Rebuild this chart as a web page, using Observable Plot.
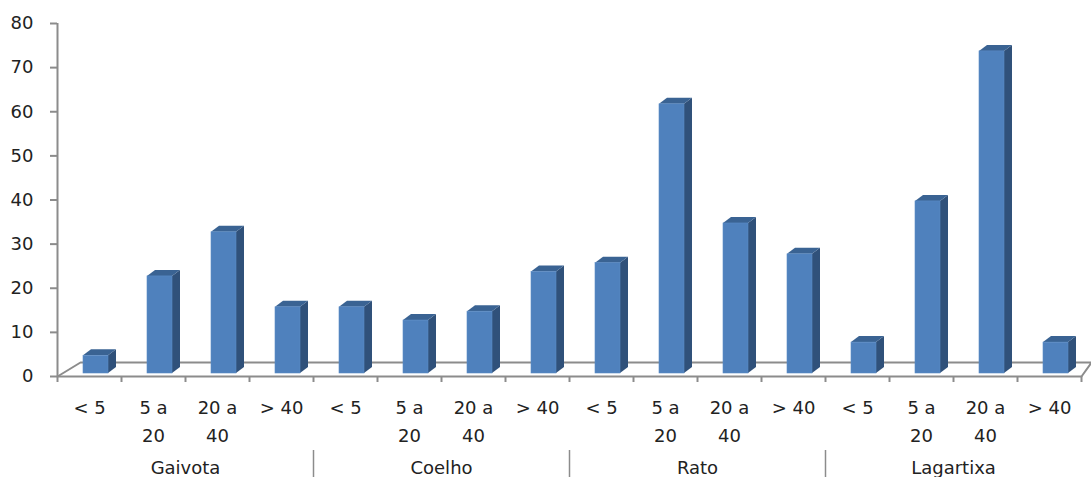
<!DOCTYPE html>
<html>
<head>
<meta charset="utf-8">
<script src="https://cdn.jsdelivr.net/npm/d3@7"></script>
<script src="https://cdn.jsdelivr.net/npm/@observablehq/plot@0.6"></script>
<style>
  html, body { margin: 0; padding: 0; background: #fff; }
  #chart svg { display: block; }
</style>
</head>
<body>
<div id="chart"></div>
<script>
// ---- data ----
const groups = ["Gaivota", "Coelho", "Rato", "Lagartixa"];
const ageClasses = ["< 5", "5 a\n20", "20 a\n40", "> 40"];
const gaivota = [4, 22, 32, 15];
const coelho = [15, 12, 14, 23];
const rato = [25, 61, 34, 27];
const lagartixa = [7, 39, 73, 7];
const yTicks = [0, 10, 20, 30, 40, 50, 60, 70, 80];

const seriesValues = [gaivota, coelho, rato, lagartixa];
const rows = [];
groups.forEach((g, gi) => {
  seriesValues[gi].forEach((v, ai) => {
    rows.push({group: g, age: ageClasses[ai], i: gi * ageClasses.length + ai, value: v});
  });
});
const n = rows.length;

// ---- layout ----
const W = 1091, H = 477;
const mL = 57, mR = 10, mT = 23, mB = 101;
const pxPerX = (W - mL - mR) / n;
const pxPerY = (H - mT - mB) / 80;
const barDX = 8 / pxPerX, barDY = 6 / pxPerY;
const barW = 25 / pxPerX;
const barShift = 6.5 / pxPerX;
const barLift = 3 / pxPerY;
const floorDX = 23 / pxPerX, floorDY = 14 / pxPerY;
const floorDXR = 10 / pxPerX;

const frontFaces = rows.map(d => ({
  ...d,
  x1: d.i + 0.5 + barShift - barW / 2,
  x2: d.i + 0.5 + barShift + barW / 2,
  y1: barLift,
  y2: d.value + barLift
}));
const sideFaces = frontFaces.flatMap(d => [
  {i: d.i, x: d.x2, y1: d.y1, y2: d.y2},
  {i: d.i, x: d.x2 + barDX, y1: d.y1 + barDY, y2: d.y2 + barDY}
]);
const topFaces = frontFaces.flatMap(d => [
  {i: d.i, x: d.x1, y1: d.y2, y2: d.y2},
  {i: d.i, x: d.x1 + barDX, y1: d.y2, y2: d.y2 + barDY},
  {i: d.i, x: d.x2, y1: d.y2, y2: d.y2 + barDY},
  {i: d.i, x: d.x2 + barDX, y1: d.y2 + barDY, y2: d.y2 + barDY}
]);
const floorLine = [
  {x: 0, y: 0},
  {x: floorDX, y: floorDY},
  {x: n + floorDXR, y: floorDY},
  {x: n, y: 0}
];

const axisColor = "#8c8c8c";
const textColor = "#222222";
const font = "'DejaVu Sans', sans-serif";

const chart = Plot.plot({
  width: W,
  height: H,
  marginLeft: mL,
  marginRight: mR,
  marginTop: mT,
  marginBottom: mB,
  style: {fontFamily: font, fontSize: "18px", color: textColor, background: "#fff", overflow: "visible"},
  x: {type: "linear", domain: [0, n], axis: null},
  y: {domain: [0, 80], axis: null},
  marks: [
    Plot.line(floorLine, {x: "x", y: "y", stroke: axisColor, strokeWidth: 2}),
    Plot.ruleX([0], {stroke: axisColor, strokeWidth: 2}),
    Plot.axisY({ticks: yTicks, tickSize: 7, tickPadding: 17, fontSize: 18, stroke: axisColor, strokeWidth: 2, fill: textColor}),
    Plot.ruleY([0], {stroke: axisColor, strokeWidth: 2}),
    Plot.axisX({ticks: d3.range(n + 1), tickSize: 6, tickFormat: () => "", stroke: axisColor, strokeWidth: 2}),
    Plot.areaY(sideFaces, {x: "x", y1: "y1", y2: "y2", z: "i", fill: "#30517a", curve: "linear"}),
    Plot.areaY(topFaces, {x: "x", y1: "y1", y2: "y2", z: "i", fill: "#3a6393", curve: "linear"}),
    Plot.rectY(frontFaces, {x1: "x1", x2: "x2", y1: "y1", y2: "y2", fill: "#4f81bd", stroke: "#5b8cc6", strokeWidth: 0.6}),
    Plot.text(rows, {x: d => d.i + 0.5, text: "age", frameAnchor: "bottom", lineAnchor: "top", dy: 18, lineHeight: 1.556, fontSize: 18, fill: textColor}),
    Plot.text(groups, {x: (d, k) => k * ageClasses.length + ageClasses.length / 2, text: d => d, frameAnchor: "bottom", lineAnchor: "top", dy: 85, fontSize: 18, fill: textColor}),
    Plot.ruleX(d3.range(1, groups.length).map(k => k * ageClasses.length), {stroke: "#8c8c8c", strokeWidth: 1.5, insetTop: H - mT - mB + 74, insetBottom: -mB})
  ]
});
document.getElementById("chart").appendChild(chart);
</script>
</body>
</html>
